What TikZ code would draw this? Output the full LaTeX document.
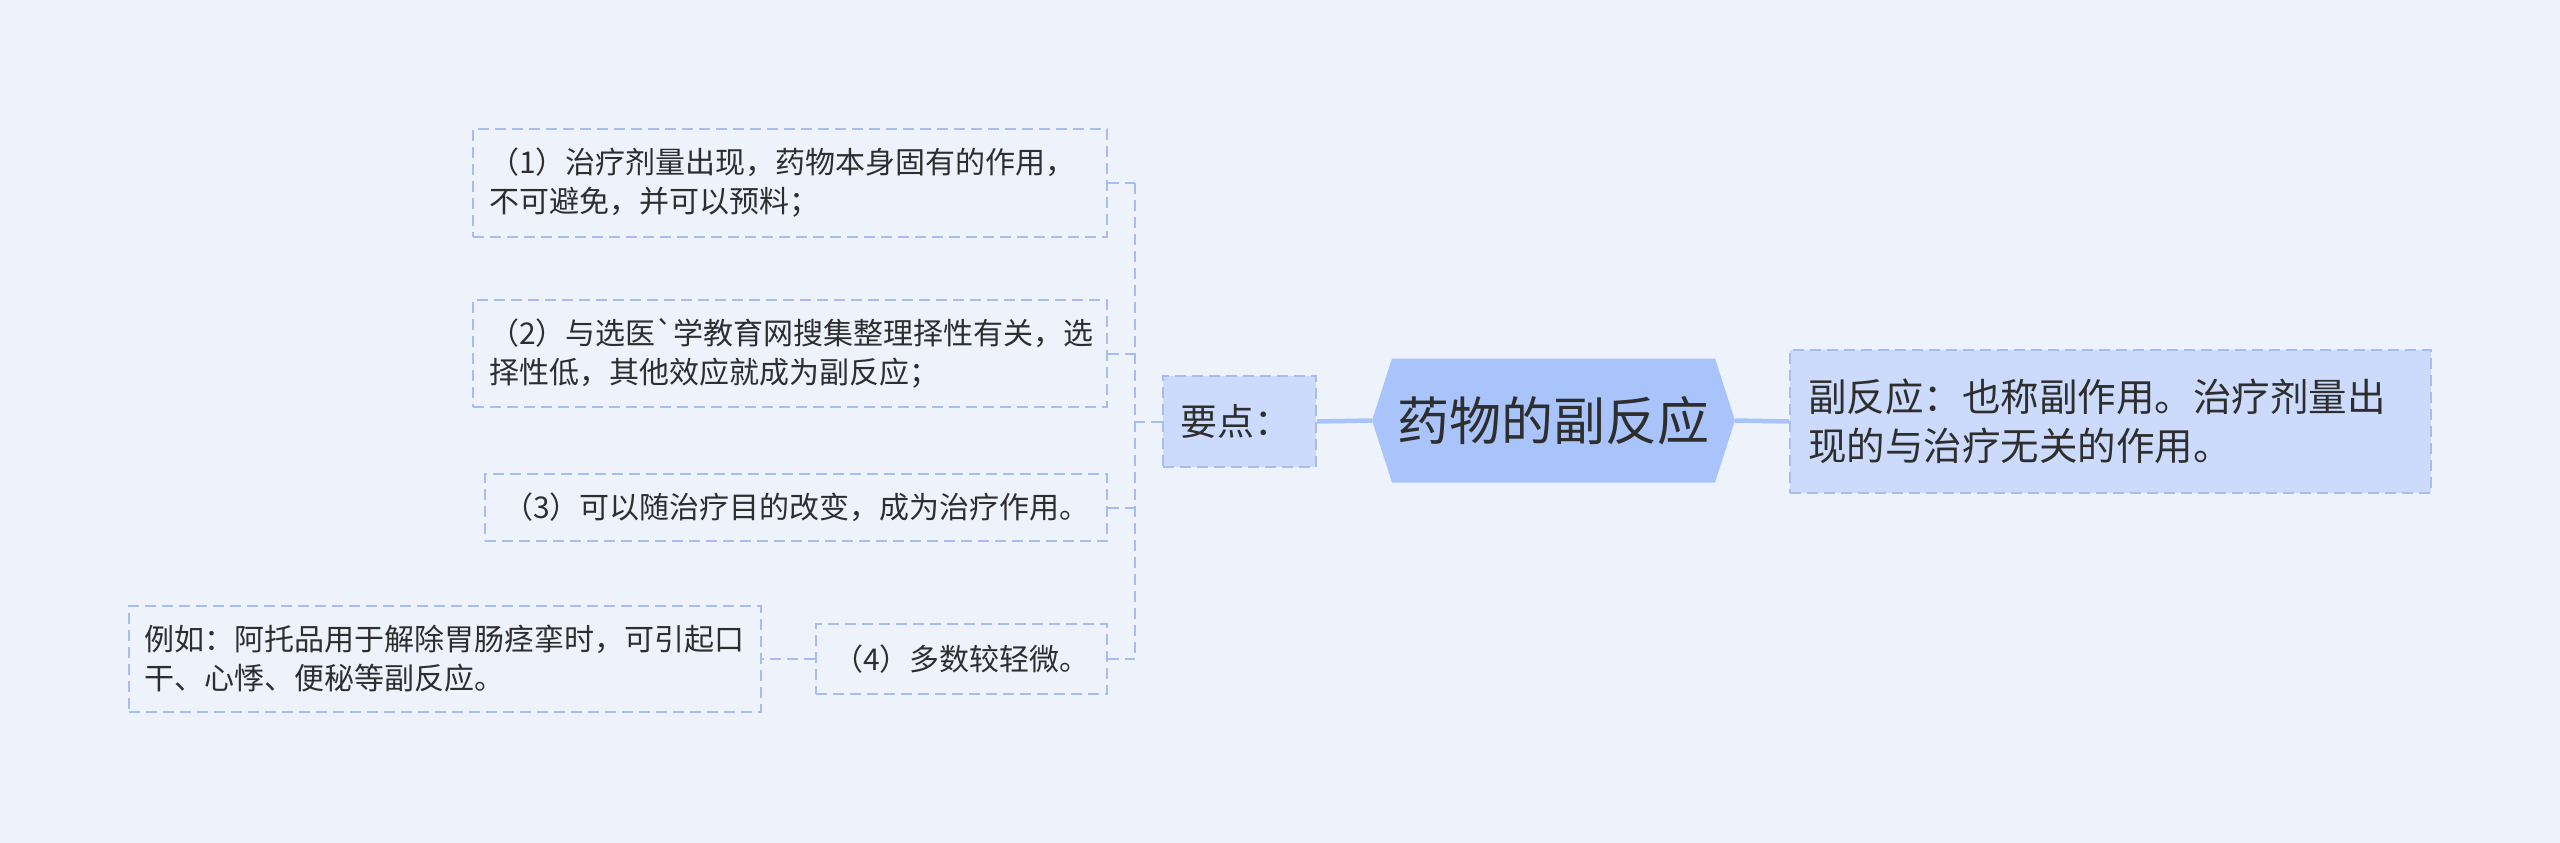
\documentclass[tikz,border=0pt]{standalone}
\usepackage{fontspec}
\newfontfamily\cjk{Noto Sans CJK SC}
\usetikzlibrary{calc}
\definecolor{bg}{HTML}{EEF2FB}
\definecolor{bd}{HTML}{A6BDF0}
\definecolor{hexfill}{HTML}{A9C4FB}
\definecolor{lightfill}{HTML}{CCDBFB}
\definecolor{txt}{HTML}{2E2E2E}
\tikzset{
  base/.style={inner sep=0pt, text=txt, font=\cjk},
  childbox/.style={base, draw=bd, line width=2pt, dash pattern=on 11pt off 6pt, align=left, inner ysep=0pt,
    font=\cjk\fontsize{30}{39}\selectfont},
  conn/.style={draw=bd, line width=2pt, dash pattern=on 11pt off 6pt},
  thickconn/.style={draw=hexfill, line width=4.5pt},
}
\begin{document}
\begin{tikzpicture}[x=1pt,y=-1pt]
\fill[bg] (0,0) rectangle (2560,843);
\useasboundingbox (0,0) rectangle (2560,843);

% central hexagon
\coordinate (hc) at (1553.5,420.5);
\fill[hexfill] ($(hc)+(-181.5,0)$) -- ($(hc)+(-161.5,-62)$) -- ($(hc)+(161.5,-62)$) -- ($(hc)+(181.5,0)$) -- ($(hc)+(161.5,62)$) -- ($(hc)+(-161.5,62)$) -- cycle;
\node[base, font=\cjk\fontsize{52}{60}\selectfont, minimum width=363pt, minimum height=124pt] (hex) at (hc) {药物的副反应};

% right box
\node[childbox, fill=lightfill, font=\cjk\fontsize{38.5}{49}\selectfont, inner xsep=18pt, text width=605pt, minimum height=143pt] (rt) at (2110.5,421.5) {副反应：也称副作用。治疗剂量出\\现的与治疗无关的作用。};

% key points
\node[childbox, fill=lightfill, font=\cjk\fontsize{37}{44}\selectfont, inner xsep=17pt, text width=119pt, minimum height=91pt] (yd) at (1239.5,421.5) {要点：};

% children
\node[childbox, inner xsep=16pt, text width=602pt, minimum height=108pt] (c1) at (790,183) {（1）治疗剂量出现，药物本身固有的作用，\\不可避免，并可以预料；};
\node[childbox, inner xsep=16pt, text width=602pt, minimum height=107pt] (c2) at (790,353.5) {（2）与选医\symbol{96}学教育网搜集整理择性有关，选\\择性低，其他效应就成为副反应；};
\node[childbox, inner xsep=18pt, text width=586pt, minimum height=67pt] (c3) at (796,507.5) {（3）可以随治疗目的改变，成为治疗作用。};
\node[childbox, inner xsep=17pt, text width=257pt, minimum height=70pt] (c4) at (961.5,659) {（4）多数较轻微。};
\node[childbox, inner xsep=15pt, text width=602pt, minimum height=106pt] (ex) at (445,659) {例如：阿托品用于解除胃肠痉挛时，可引起口\\干、心悸、便秘等副反应。};

% connectors
\draw[thickconn] (yd.east) -- (hex.west);
\draw[thickconn] (hex.east) -- (rt.west);
\coordinate (j) at (1135,421.5);
\draw[conn] (yd.west) -- (j);
\draw[conn] (c1.east -| j) -- (c4.east -| j);
\draw[conn] (c1.east) -- (c1.east -| j);
\draw[conn] (c2.east) -- (c2.east -| j);
\draw[conn] (c3.east) -- (c3.east -| j);
\draw[conn] (c4.east) -- (c4.east -| j);
\draw[conn] (c4.west) -- (ex.east);
\end{tikzpicture}
\end{document}
